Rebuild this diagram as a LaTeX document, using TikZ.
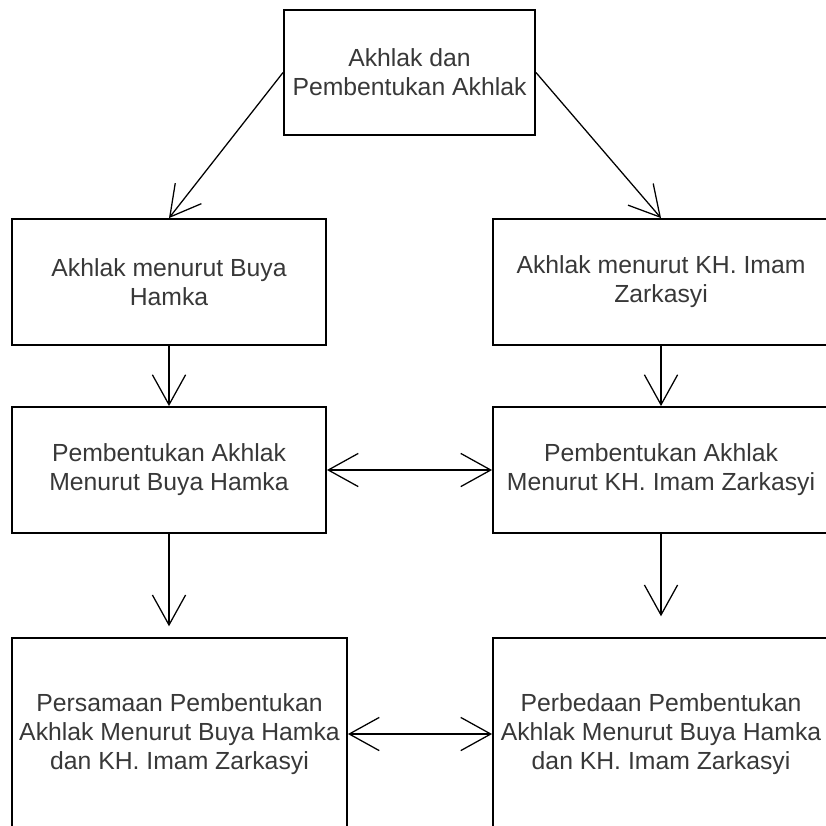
\documentclass[tikz,border=0pt]{standalone}
\usepackage{fontspec}
\setmainfont{Liberation Sans}
\usetikzlibrary{arrows.meta}

\begin{document}
\begin{tikzpicture}[x=0.025cm, y=-0.025cm,
	kotak/.style={draw, line width=1.3pt, align=center, inner sep=0pt,
		text=black!78, font=\fontsize{17.6}{20.6}\selectfont},
	panah/.style={line width=0.9pt, -{Straight Barb[length=7.5mm, width=8.3mm]}},
	panahdua/.style={line width=0.9pt, {Straight Barb[length=7.5mm, width=8.3mm]}-{Straight Barb[length=7.5mm, width=8.3mm]}}]
	\useasboundingbox (0, 0) rectangle (826, 825); % page
\node[kotak, minimum width=6.275cm, minimum height=3.125cm] (akhlak) at (409.5, 72.5) {Akhlak dan\\Pembentukan Akhlak}; % top
\node[kotak, minimum width=7.85cm, minimum height=3.15cm] (hamka) at (169, 282) {Akhlak menurut Buya\\Hamka}; % row 2
\node[kotak, minimum width=8.4cm, minimum height=3.15cm] (zarkasyi) at (661, 282) {Akhlak menurut KH. Imam\\Zarkasyi}; % row 2
\node[kotak, minimum width=7.85cm, minimum height=3.15cm] (bhamka) at (169, 470) {Pembentukan Akhlak\\Menurut Buya Hamka}; % row 3
\node[kotak, minimum width=8.4cm, minimum height=3.15cm] (bzarkasyi) at (661, 470) {Pembentukan Akhlak\\Menurut KH. Imam Zarkasyi}; % row 3
\node[kotak, minimum width=8.375cm, minimum height=4.8cm] (persamaan) at (179.5, 734) {Persamaan Pembentukan\\Akhlak Menurut Buya Hamka\\dan KH. Imam Zarkasyi}; % row 4
\node[kotak, minimum width=8.4cm, minimum height=4.8cm] (perbedaan) at (661, 734) {Perbedaan Pembentukan\\Akhlak Menurut Buya Hamka\\dan KH. Imam Zarkasyi}; % row 4

\draw[panah] (akhlak.west) -- (hamka.north); % left branch
\draw[panah] (akhlak.east) -- (zarkasyi.north); % right branch
\draw[panah] (hamka) -- (bhamka); % 
\draw[panah] (zarkasyi) -- (bzarkasyi); % 
\draw[panah, shorten >=0.27cm] (bhamka.south) -- (bhamka.south |- persamaan.north); % 
\draw[panah, shorten >=0.52cm] (bzarkasyi.south) -- (bzarkasyi.south |- perbedaan.north); % 
\draw[panahdua] (bhamka) -- (bzarkasyi); % row 3
\draw[panahdua] (persamaan) -- (perbedaan); % row 4

	\end{tikzpicture}
\end{document}
